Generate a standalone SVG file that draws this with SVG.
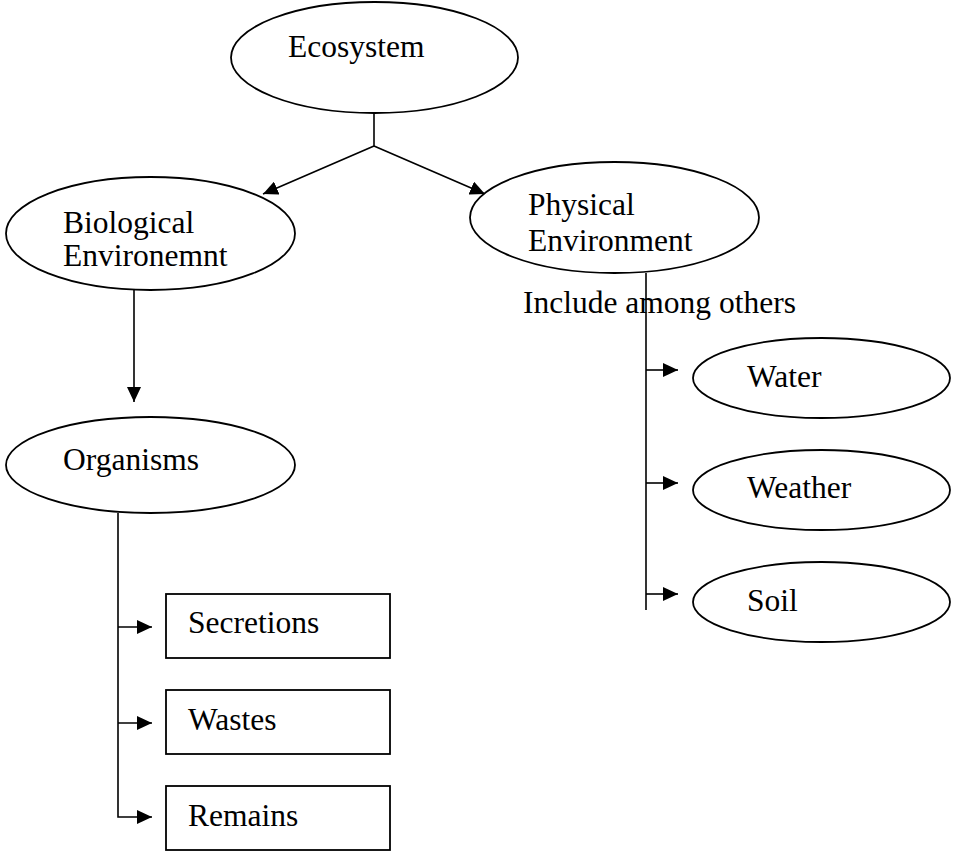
<svg xmlns="http://www.w3.org/2000/svg" width="957" height="857" viewBox="0 0 957 857">
<style>
.n{fill:#fff;stroke:#000;stroke-width:1.8}
.t{font-family:"Liberation Serif","Times New Roman",serif;font-size:31.5px;fill:#000}
.c{fill:none;stroke:#000;stroke-width:1.6}
</style>
<defs>
<marker id="ah" viewBox="0 0 15 14" refX="15" refY="7" markerWidth="15" markerHeight="14" orient="auto" markerUnits="userSpaceOnUse">
<path d="M0,0 L15,7 L0,14 z" fill="#000"/>
</marker>
<clipPath id="cb"><rect x="0" y="170" width="320" height="97.5"/></clipPath>
<clipPath id="cp"><rect x="460" y="160" width="320" height="92"/></clipPath>
</defs>
<rect width="957" height="857" fill="#fff"/>
<g id="connectors">
<path class="c" d="M374,113 V146"/>
<path class="c" d="M374,146 L263,194" marker-end="url(#ah)"/>
<path class="c" d="M374,146 L485,194" marker-end="url(#ah)"/>
<path class="c" d="M134,290 V402" marker-end="url(#ah)"/>
<path class="c" d="M118,513 V817 H152" marker-end="url(#ah)"/>
<path class="c" d="M118,627 H152" marker-end="url(#ah)"/>
<path class="c" d="M118,723 H152" marker-end="url(#ah)"/>
<path class="c" d="M646,273 V610"/>
<path class="c" d="M646,370 H678" marker-end="url(#ah)"/>
<path class="c" d="M646,483 H678" marker-end="url(#ah)"/>
<path class="c" d="M646,594 H678" marker-end="url(#ah)"/>
</g>
<g id="ecosystem">
<ellipse class="n" cx="374.5" cy="57.5" rx="143.5" ry="55.5"/>
<text class="t" x="288" y="57">Ecosystem</text>
</g>
<g id="biological">
<ellipse class="n" cx="150.5" cy="233.5" rx="144.5" ry="56.5"/>
<g clip-path="url(#cb)">
<text class="t" x="63" y="233">Biological</text>
<text class="t" x="63" y="266">Environemnt</text>
</g>
</g>
<g id="physical">
<ellipse class="n" cx="614.5" cy="217.5" rx="144.5" ry="55.5"/>
<g clip-path="url(#cp)">
<text class="t" x="528" y="215">Physical</text>
<text class="t" x="528" y="251">Environment</text>
</g>
</g>
<g id="include-label">
<text class="t" x="523" y="313">Include among others</text>
</g>
<g id="organisms">
<ellipse class="n" cx="150.5" cy="465" rx="144.5" ry="48"/>
<text class="t" x="63" y="470">Organisms</text>
</g>
<g id="water">
<ellipse class="n" cx="821.5" cy="378" rx="128.5" ry="40"/>
<text class="t" x="747" y="387">Water</text>
</g>
<g id="weather">
<ellipse class="n" cx="821.5" cy="490" rx="128.5" ry="40"/>
<text class="t" x="747" y="498">Weather</text>
</g>
<g id="soil">
<ellipse class="n" cx="821.5" cy="602" rx="128.5" ry="40"/>
<text class="t" x="747" y="611">Soil</text>
</g>
<g id="secretions">
<rect class="n" x="166" y="594" width="224" height="64"/>
<text class="t" x="188" y="633">Secretions</text>
</g>
<g id="wastes">
<rect class="n" x="166" y="690" width="224" height="64"/>
<text class="t" x="188" y="730">Wastes</text>
</g>
<g id="remains">
<rect class="n" x="166" y="786" width="224" height="64"/>
<text class="t" x="188" y="826">Remains</text>
</g>
</svg>
